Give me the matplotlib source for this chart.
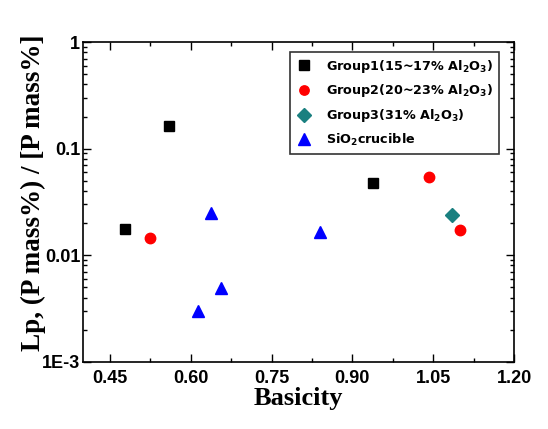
import matplotlib
matplotlib.use("Agg")
import matplotlib.pyplot as plt
from matplotlib.ticker import FixedLocator, FixedFormatter, MultipleLocator, LogLocator, NullFormatter

# ---------------- DATA ----------------

g1_x = [0.477, 0.560, 0.938]
g1_y = [0.0176, 0.162, 0.0472]

g2_x = [0.524, 1.042, 1.099]
g2_y = [0.0146, 0.0546, 0.0173]

g3_x = [1.085]
g3_y = [0.0238]

sio2_x = [0.637, 0.656, 0.613, 0.839]
sio2_y = [0.0249, 0.00492, 0.00301, 0.0166]

x_ticks = [0.45, 0.60, 0.75, 0.90, 1.05, 1.20]
x_labels = ["0.45", "0.60", "0.75", "0.90", "1.05", "1.20"]
y_ticks = [1e-3, 1e-2, 1e-1, 1]
y_labels = ["1E-3", "0.01", "0.1", "1"]

# ---------------- STYLE ----------------

plt.rcParams["mathtext.fontset"] = "dejavusans"
plt.rcParams["mathtext.default"] = "bf"

fig = plt.figure(figsize=(5.48, 4.29), dpi=100)
ax = fig.add_axes([0.1515, 0.157, 0.7865, 0.745])

ax.plot(g1_x, g1_y, "s", color="black", ms=7.5, ls="none",
        label=r"Group1(15~17% Al$_2$O$_3$)")
ax.plot(g2_x, g2_y, "o", color="#ff0000", ms=7.5, ls="none",
        label=r"Group2(20~23% Al$_2$O$_3$)")
ax.plot(g3_x, g3_y, "D", color="#1a8080", ms=7.5, ls="none",
        label=r"Group3(31% Al$_2$O$_3$)")
ax.plot(sio2_x, sio2_y, "^", color="#0000ff", ms=9, ls="none",
        label=r"SiO$_2$crucible")

ax.set_yscale("log")
ax.set_xlim(0.40, 1.20)
ax.set_ylim(1e-3, 1)

ax.xaxis.set_major_locator(FixedLocator(x_ticks))
ax.xaxis.set_major_formatter(FixedFormatter(x_labels))
ax.xaxis.set_minor_locator(MultipleLocator(0.075))
ax.yaxis.set_major_locator(FixedLocator(y_ticks))
ax.yaxis.set_major_formatter(FixedFormatter(y_labels))
ax.yaxis.set_minor_locator(LogLocator(base=10, subs=range(2, 10)))
ax.yaxis.set_minor_formatter(NullFormatter())

ax.tick_params(which="both", direction="in", top=True, right=True,
               width=1, colors="black")
ax.tick_params(which="major", length=6)
ax.tick_params(which="minor", length=3)
ax.tick_params(axis="x", which="major", pad=6)
ax.tick_params(axis="y", which="major", pad=2)

for lab in ax.get_xticklabels() + ax.get_yticklabels():
    lab.set_fontfamily("Liberation Sans")
    lab.set_fontweight("bold")
    lab.set_fontsize(13)

for sp in ax.spines.values():
    sp.set_linewidth(1.2)

ax.set_xlabel("Basicity", family="Liberation Serif", weight="bold",
              fontsize=19, labelpad=0)
ax.set_ylabel("Lp, (P mass%) / [P mass%]", family="Liberation Serif",
              weight="bold", fontsize=19.5)
ax.yaxis.set_label_coords(-0.085, 0.527)

leg = ax.legend(loc="upper right", bbox_to_anchor=(0.965, 0.969),
                borderaxespad=0, frameon=True, fancybox=False,
                edgecolor="black",
                prop={"family": "DejaVu Sans", "weight": "bold", "size": 9.2},
                handletextpad=1.1, borderpad=0.45, labelspacing=0.6,
                handlelength=1.3, markerscale=0.9)
leg.get_frame().set_linewidth(1.2)

fig.savefig("out.png", dpi=100)
